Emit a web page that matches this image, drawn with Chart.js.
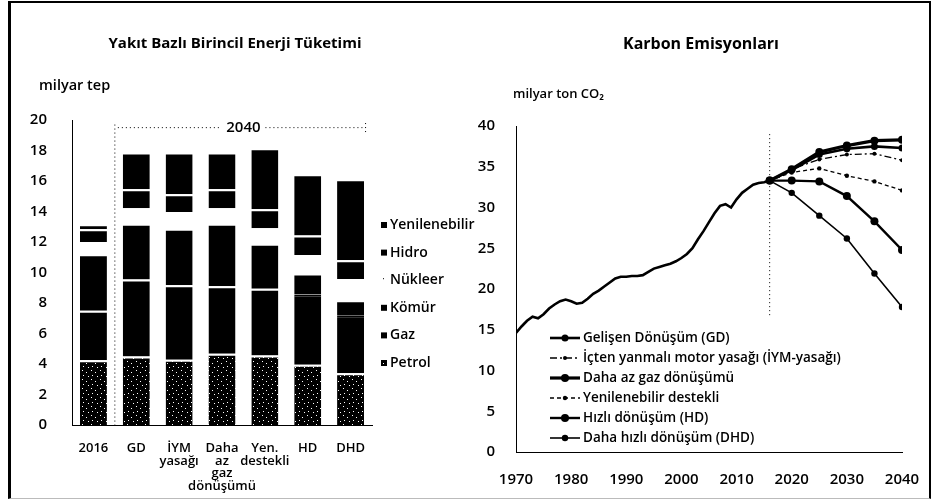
<!DOCTYPE html>
<html lang="tr">
<head>
<meta charset="utf-8">
<title>Enerji Tüketimi ve Karbon Emisyonları</title>
<script src="https://cdn.jsdelivr.net/npm/chart.js@4/dist/chart.umd.min.js"></script>
<style>
  html, body { margin: 0; padding: 0; background: #fff; }
  #page { position: relative; width: 935px; height: 500px; overflow: hidden; }
  #frame {
    position: absolute; left: 8px; top: 1px; width: 918px; height: 495px;
    border-top: 2px solid #000; border-left: 3px solid #000;
    border-right: 2px solid #000; border-bottom: 1px solid #bbb;
  }
  #energyChart { position: absolute; left: 0; top: 0; }
  #carbonChart { position: absolute; left: 470px; top: 0; }
</style>
</head>
<body>
<div id="page">
  <div id="frame"></div>
  <canvas id="energyChart" width="490" height="500"></canvas>
  <canvas id="carbonChart" width="465" height="500"></canvas>
</div>
<script>
// primary energy by fuel, billion toe (2016 and 2040 scenarios)
const scenarios = ["2016", "GD", ["İYM", "yasağı"], ["Daha", "az", "gaz", "dönüşümü"], ["Yen.", "destekli"], "HD", "DHD"];
const petrol = [4.25, 4.5, 4.28, 4.67, 4.56, 3.95, 3.4];
const gaz = [3.25, 5.04, 4.89, 4.43, 4.37, 4.6, 3.8];
const komur = [3.7, 3.66, 3.7, 4.1, 2.96, 1.38, 0.98];
const nukleer = [0.8, 1.01, 1.1, 1.01, 1.01, 1.21, 1.4];
const hidro = [0.83, 1.25, 1.16, 1.25, 1.24, 1.29, 1.23];
const yenilenebilir = [0.33, 2.41, 2.74, 2.41, 4.0, 4.02, 5.31];
const energyTicks = [0, 2, 4, 6, 8, 10, 12, 14, 16, 18, 20];

// carbon emissions, billion t CO2
const historyYears = [1970, 1971, 1972, 1973, 1974, 1975, 1976, 1977, 1978, 1979,
  1980, 1981, 1982, 1983, 1984, 1985, 1986, 1987, 1988, 1989,
  1990, 1991, 1992, 1993, 1994, 1995, 1996, 1997, 1998, 1999,
  2000, 2001, 2002, 2003, 2004, 2005, 2006, 2007, 2008, 2009,
  2010, 2011, 2012, 2013, 2014, 2015, 2016];
const historyCO2 = [14.6, 15.4, 16.1, 16.6, 16.4, 16.9, 17.6, 18.1, 18.5, 18.7,
  18.5, 18.2, 18.3, 18.8, 19.4, 19.8, 20.3, 20.8, 21.3, 21.5,
  21.5, 21.6, 21.6, 21.7, 22.1, 22.5, 22.7, 22.9, 23.1, 23.4,
  23.8, 24.3, 25.0, 26.1, 27.1, 28.2, 29.3, 30.2, 30.4, 30.0,
  31.0, 31.8, 32.3, 32.8, 33.0, 33.1, 33.3];
const outlookYears = [2016, 2020, 2025, 2030, 2035, 2040];
const gdCO2 = [33.3, 34.6, 36.5, 37.2, 37.5, 37.3];
const iymCO2 = [33.3, 34.7, 35.9, 36.5, 36.6, 35.8];
const lessGasCO2 = [33.3, 34.7, 36.8, 37.6, 38.2, 38.3];
const renewablesCO2 = [33.3, 34.3, 34.8, 33.9, 33.2, 32.1];
const hdCO2 = [33.3, 33.3, 33.2, 31.4, 28.3, 24.8];
const dhdCO2 = [33.3, 31.8, 29.0, 26.2, 21.9, 17.8];

const FONT = "'Open Sans', 'Noto Sans', sans-serif";

function speckle(ctx) {
  const tile = document.createElement("canvas");
  tile.width = 9;
  tile.height = 9;
  const t = tile.getContext("2d");
  t.fillStyle = "#000";
  t.fillRect(0, 0, 9, 9);
  t.fillStyle = "#fff";
  [[1, 1], [5, 3], [7, 7], [2, 6]].forEach(([x, y]) => t.fillRect(x, y, 1, 1));
  return ctx.createPattern(tile, "repeat");
}

function dotted(ctx, x1, y1, x2, y2) {
  ctx.save();
  ctx.strokeStyle = "#000";
  ctx.lineWidth = 1;
  ctx.setLineDash([1, 3]);
  ctx.beginPath();
  ctx.moveTo(x1, y1);
  ctx.lineTo(x2, y2);
  ctx.stroke();
  ctx.restore();
}

// ---------- left: fuel mix ----------
const energyCtx = document.getElementById("energyChart").getContext("2d");
const topLine = { top: 2, right: 0, bottom: 0, left: 0 };

const energyDecor = {
  id: "energyDecor",
  afterDraw(chart) {
    const { ctx, scales: { x, y } } = chart;
    ctx.save();
    ctx.fillStyle = "#000";
    ctx.textBaseline = "middle";
    ctx.textAlign = "center";
    ctx.font = "bold 15px " + FONT;
    ctx.fillText("Yakıt Bazlı Birincil Enerji Tüketimi", 235, 44);
    ctx.textAlign = "left";
    ctx.font = "600 14.5px " + FONT;
    ctx.fillText("milyar tep", 39, 86);

    // 2016 | 2040 separator and bracket
    const sep = (x.getPixelForValue(0) + x.getPixelForValue(1)) / 2;
    const last = x.getPixelForValue(scenarios.length - 1) + 15;
    const top = y.getPixelForValue(19.5);
    dotted(ctx, sep, y.getPixelForValue(19.7), sep, y.getPixelForValue(0));
    const mid = (x.getPixelForValue(1) + x.getPixelForValue(scenarios.length - 1)) / 2;
    dotted(ctx, sep + 3, top, mid - 22, top);
    dotted(ctx, mid + 22, top, last, top);
    dotted(ctx, last, y.getPixelForValue(19.8), last, y.getPixelForValue(19.1));
    ctx.textAlign = "center";
    ctx.font = "600 15px " + FONT;
    ctx.fillText("2040", mid, top);

    // legend, top of stack first
    const items = chart.data.datasets.slice().reverse();
    ctx.textAlign = "left";
    ctx.font = "600 14px " + FONT;
    items.forEach((ds, i) => {
      const ly = 225 + i * 27.6;
      if (ds.label !== "Nükleer") {
        ctx.fillStyle = ds.backgroundColor;
        ctx.fillRect(381, ly - 3, 6, 6);
      } else {
        ctx.fillStyle = "#000";
        ctx.fillRect(383, ly - 2, 1, 1);
      }
      ctx.fillStyle = "#000";
      ctx.fillText(ds.label, 390, ly);
    });
    ctx.restore();
  },
};

new Chart(energyCtx, {
  type: "bar",
  data: {
    labels: scenarios,
    datasets: [
      { label: "Petrol", data: petrol, backgroundColor: speckle(energyCtx) },
      {
        label: "Gaz",
        data: gaz,
        backgroundColor: "#000",
        // gas and coal run together in the two transition bars
        borderColor: ["#fff", "#fff", "#fff", "#fff", "#fff", "#000", "#000"],
      },
      { label: "Kömür", data: komur, backgroundColor: "#000" },
      { label: "Nükleer", data: nukleer, backgroundColor: "#fff" },
      { label: "Hidro", data: hidro, backgroundColor: "#000" },
      { label: "Yenilenebilir", data: yenilenebilir, backgroundColor: "#000" },
    ],
  },
  options: {
    responsive: false,
    animation: false,
    layout: { padding: { left: 12, right: 118, top: 120, bottom: 5 } },
    datasets: {
      bar: {
        barPercentage: 0.63,
        categoryPercentage: 1,
        borderColor: "#fff",
        borderWidth: topLine,
        borderSkipped: false,
      },
    },
    plugins: { legend: { display: false }, tooltip: { enabled: false } },
    scales: {
      x: {
        stacked: true,
        grid: { display: false },
        border: { display: true, color: "#000", dash: [1, 4] },
        ticks: {
          color: "#000",
          padding: 9,
          maxRotation: 0,
          autoSkip: false,
          font: { family: FONT, size: 13, weight: "600", lineHeight: 0.97 },
        },
        afterFit: (s) => { s.height = 70; },
      },
      y: {
        stacked: true,
        min: 0,
        max: 20,
        grid: { display: false },
        border: { display: true, color: "#000", dash: [1, 4] },
        afterBuildTicks: (s) => { s.ticks = energyTicks.map((v) => ({ value: v })); },
        ticks: {
          color: "#000",
          padding: 17,
          font: { family: FONT, size: 15, weight: "600" },
        },
        afterFit: (s) => { s.width = 60; },
      },
    },
  },
  plugins: [energyDecor],
});

// ---------- right: emissions ----------
const carbonCtx = document.getElementById("carbonChart").getContext("2d");
const toPoints = (xs, ys) => xs.map((x, i) => ({ x, y: ys[i] }));

const carbonDecor = {
  id: "carbonDecor",
  afterDraw(chart) {
    const { ctx, scales: { x, y } } = chart;
    ctx.save();
    ctx.fillStyle = "#000";
    ctx.textBaseline = "middle";
    ctx.textAlign = "center";
    ctx.font = "bold 16px " + FONT;
    ctx.fillText("Karbon Emisyonları", 231, 44);
    ctx.textAlign = "left";
    ctx.font = "600 13px " + FONT;
    ctx.fillText("milyar ton CO₂", 43, 94);

    const x16 = x.getPixelForValue(2016);
    dotted(ctx, x16, y.getPixelForValue(39), x16, y.getPixelForValue(16.5));

    // scenario legend
    ctx.font = "600 13.5px " + FONT;
    chart.data.datasets.slice(1).forEach((ds, i) => {
      const ly = 338 + i * 20;
      ctx.save();
      ctx.strokeStyle = "#000";
      ctx.lineWidth = ds.borderWidth;
      ctx.setLineDash(ds.borderDash || []);
      ctx.beginPath();
      ctx.moveTo(80, ly);
      ctx.lineTo(110, ly);
      ctx.stroke();
      ctx.restore();
      ctx.beginPath();
      ctx.arc(95, ly, ds.pointRadius, 0, Math.PI * 2);
      ctx.fill();
      ctx.fillText(ds.label, 113, ly);
    });
    ctx.restore();
  },
};

const scenarioLine = (label, ys, width, radius, dash) => ({
  label,
  data: toPoints(outlookYears, ys),
  borderColor: "#000",
  backgroundColor: "#000",
  borderWidth: width,
  borderDash: dash,
  pointRadius: radius,
  pointBorderWidth: 0,
});

new Chart(carbonCtx, {
  type: "line",
  data: {
    datasets: [
      {
        label: "Gerçekleşen",
        data: toPoints(historyYears, historyCO2),
        borderColor: "#000",
        borderWidth: 2.6,
        pointRadius: 0,
      },
      scenarioLine("Gelişen Dönüşüm (GD)", gdCO2, 2.6, 3.5),
      scenarioLine("İçten yanmalı motor yasağı (İYM-yasağı)", iymCO2, 1.3, 2, [7, 3, 2, 3]),
      scenarioLine("Daha az gaz dönüşümü", lessGasCO2, 3.2, 4),
      scenarioLine("Yenilenebilir destekli", renewablesCO2, 1.3, 2.2, [4, 3]),
      scenarioLine("Hızlı dönüşüm (HD)", hdCO2, 2.4, 4),
      scenarioLine("Daha hızlı dönüşüm (DHD)", dhdCO2, 1.6, 3.2),
    ],
  },
  options: {
    responsive: false,
    animation: false,
    layout: { padding: { left: 4, right: 33, top: 126, bottom: 4 } },
    plugins: { legend: { display: false }, tooltip: { enabled: false } },
    scales: {
      x: {
        type: "linear",
        min: 1970,
        max: 2040,
        grid: { display: false },
        border: { display: true, color: "#000", dash: [2, 5] },
        ticks: {
          stepSize: 10,
          color: "#000",
          padding: 11,
          callback: (v) => String(v),
          font: { family: FONT, size: 15, weight: "600" },
        },
        afterFit: (s) => { s.height = 44; },
      },
      y: {
        min: 0,
        max: 40,
        grid: { display: false },
        border: { display: true, color: "#000", dash: [1, 4] },
        ticks: {
          stepSize: 5,
          color: "#000",
          padding: 13,
          font: { family: FONT, size: 15, weight: "600" },
        },
        afterFit: (s) => { s.width = 42; },
      },
    },
  },
  plugins: [carbonDecor],
});
</script>
</body>
</html>
